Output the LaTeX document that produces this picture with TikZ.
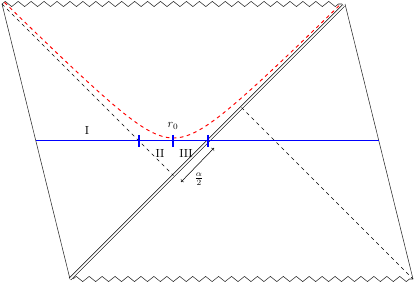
\documentclass[tikz,border=0pt]{standalone}
\usetikzlibrary{decorations.pathmorphing,calc}
\begin{document}
\begin{tikzpicture}[x=0.85pt,y=-0.85pt,
  edge/.style={line width=0.45pt,black!85},
  zz/.style={edge,decorate,decoration={zigzag,segment length=11pt,amplitude=2.2pt}},
  horizon/.style={line width=0.5pt,black,double=white,double distance=1.5pt},
  hdash/.style={line width=0.45pt,black,dashed},
  curve/.style={thick,red,dashed},
  slice/.style={thick,blue},
  tickmark/.style={line width=0.9pt,blue},
  lbl/.style={inner sep=1pt}]
\useasboundingbox (0,0) rectangle (415,283);
\coordinate (TL) at (2,4);
\coordinate (TR) at (345,4);
\coordinate (BR) at (413,279);
\coordinate (BL) at (70,279);
\coordinate (C) at (173.5,175.5);
\coordinate (D) at (241.5,107.5);
% boundary
\draw[zz] (TL) -- ($(TR)+(-3,0)$);
\draw[zz] ($(BL)+(3,0)$) -- (BR);
\draw[edge] (TL) -- (BL);
\draw[edge] (TR) -- (BR);
% horizon
\draw[horizon] (BL) -- ($(TR)+(-1.5,1.5)$);
% dashed lines
\draw[hdash] (TL) -- (C);
\draw[hdash] (D) -- (BR);
% hyperbola
\draw[curve] plot[domain=-1.69:1.67,samples=90,smooth] ({173.5+100*\x},{175.5-100*sqrt(\x*\x+0.140625)});
% slice
\coordinate (SL) at ($(TL)!0.498!(BL)$);
\coordinate (SR) at ($(TR)!0.498!(BR)$);
\draw[slice] (SL) -- (SR);
\coordinate (K1) at (139,141);
\coordinate (K2) at (173,141);
\coordinate (K3) at (208,141);
\draw[tickmark] ($(K1)+(0,-6)$) -- ($(K1)+(0,6)$);
\draw[tickmark] ($(K2)+(0,-6)$) -- ($(K2)+(0,6)$);
\draw[tickmark] ($(K3)+(0,-6)$) -- ($(K3)+(0,6)$);
% labels
\node[lbl] (lI) at (87,130) {I};
\node[lbl] (lr) at (173,126) {$r_0$};
\node[lbl] (lII) at (160,153) {II};
\node[lbl] (lIII) at (186,153) {III};
\coordinate (A1) at (181,182);
\coordinate (A2) at (214,148);
\draw[line width=0.45pt,<->] (A1) -- (A2);
\node[lbl] (la) at (199,179) {$\frac{\alpha}{2}$};
\end{tikzpicture}
\end{document}
